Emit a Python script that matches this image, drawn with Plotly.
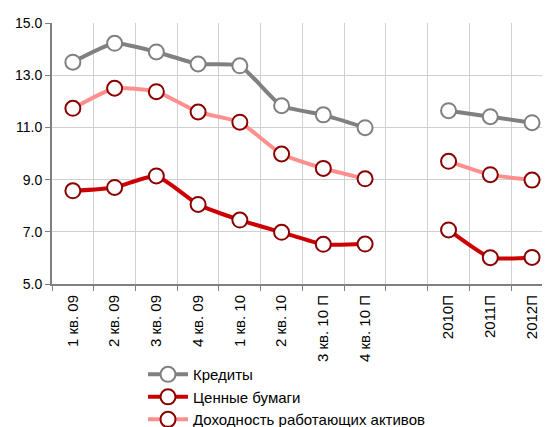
import plotly.graph_objects as go

categories = ["1 кв. 09", "2 кв. 09", "3 кв. 09", "4 кв. 09", "1 кв. 10", "2 кв. 10",
              "3 кв. 10 П", "4 кв. 10 П", " ", "2010П", "2011П", "2012П"]
credits = [13.5, 14.22, 13.89, 13.43, 13.36, 11.83, 11.48, 10.99, None, 11.64, 11.41, 11.18]
securities = [8.57, 8.70, 9.14, 8.05, 7.45, 6.98, 6.52, 6.53, None, 7.07, 6.01, 6.02]
yield_assets = [11.73, 12.5, 12.37, 11.59, 11.2, 9.98, 9.43, 9.03, None, 9.70, 9.19, 8.98]

series = [
    ("Кредиты", credits, "#808080", "#808080"),
    ("Ценные бумаги", securities, "#CC0000", "#8B0000"),
    ("Доходность работающих активов", yield_assets, "#FF8F8F", "#8B0000"),
]

fig = go.Figure()
for name, vals, lc, mc in series:
    fig.add_trace(go.Scatter(
        x=categories, y=vals, name=name, mode="lines+markers",
        line=dict(color=lc, width=4, shape="spline", smoothing=0.5),
        marker=dict(size=15, color="white", line=dict(color=mc, width=2)),
        connectgaps=False,
    ))

# the page body adds an 8px offset, so the figure is 542x419
fig.update_layout(
    width=542, height=419,
    margin=dict(l=44, r=0, t=15, b=143, autoexpand=False),
    paper_bgcolor="white", plot_bgcolor="white",
    font=dict(family="Liberation Sans, Arial, sans-serif", size=14, color="black"),
    showlegend=True,
    legend=dict(x=(135 - 44) / 498, y=-0.284, xanchor="left", yanchor="top",
                font=dict(size=15), bgcolor="rgba(0,0,0,0)", itemwidth=40,
                tracegroupgap=0),
)
fig.update_xaxes(
    type="category", categoryorder="array", categoryarray=categories,
    range=[-0.5, 11.43], tickson="boundaries", ticks="outside", ticklen=5,
    tickcolor="#808080", tickwidth=1, automargin=False, ticklabelstandoff=3,
    showgrid=True, gridcolor="#D0D0D0", gridwidth=1,
    showline=True, linecolor="#808080", linewidth=2,
    tickangle=-90, tickfont=dict(size=15), fixedrange=True,
)
fig.update_yaxes(
    range=[5, 15], tickvals=[5, 7, 9, 11, 13, 15], tickformat=".1f",
    ticks="outside", ticklen=5, tickcolor="#808080", automargin=False,
    showgrid=True, gridcolor="#D0D0D0", gridwidth=1,
    showline=True, linecolor="#808080", linewidth=2,
    zeroline=False, tickfont=dict(size=14), fixedrange=True,
)

fig.write_html("out.html")
